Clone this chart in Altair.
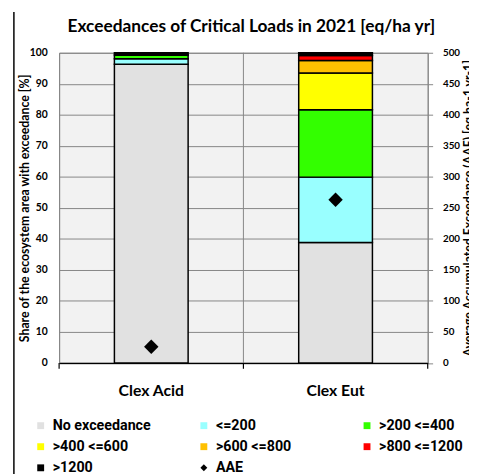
import altair as alt
import pandas as pd

categories = ["Clex Acid", "Clex Eut"]
classes = ["No exceedance", "<=200", ">200 <=400", ">400 <=600",
           ">600 <=800", ">800 <=1200", ">1200"]
acid_share = [96.3, 1.8, 1.2, 0.0, 0.0, 0.0, 0.7]
eut_share = [38.8, 21.1, 21.7, 11.9, 4.0, 1.6, 0.9]
aae_values = [26, 263]
class_colors = ["#e1e1e1", "#99ffff", "#33ff00", "#ffff00",
                "#ffc000", "#ff0000", "#000000"]
left_ticks = list(range(0, 101, 10))
right_ticks = list(range(0, 501, 50))

rows = []
for cat, shares in zip(categories, [acid_share, eut_share]):
    for i, (cl, v) in enumerate(zip(classes, shares)):
        rows.append({"cat": cat, "cls": cl, "order": i, "share": v})
bars_df = pd.DataFrame(rows)
aae_df = pd.DataFrame({"cat": categories, "cls": ["AAE"] * len(categories),
                       "aae": aae_values})

legend_domain = classes + ["AAE"]
color_scale = alt.Scale(domain=legend_domain, range=class_colors + ["#000000"])
shape_scale = alt.Scale(domain=legend_domain, range=["square"] * 7 + ["diamond"])

FONT = "Lato"
LFONT = "Roboto"
GRID = "#868686"
W, H = 375, 315.5

legend = alt.Legend(title=None, symbolStrokeColor="black", symbolStrokeWidth=1,
                    direction="horizontal", columns=3, gridAlign="all")

x_scale = alt.Scale(domain=categories, paddingInner=0, paddingOuter=0)
x_axis = alt.Axis(title=None, grid=False, ticks=False,
                  domainColor="black", domainWidth=1.5,
                  labelFont=FONT, labelFontSize=16, labelFontWeight="bold",
                  labelColor="black", labelPadding=20, labelAngle=0)
x_enc = alt.X("cat:N", sort=categories, scale=x_scale, axis=x_axis)

one = pd.DataFrame({"a": [0]})
# category separator gridline and the x-axis tick marks at the category boundaries
sep_grid = alt.Chart(one).mark_rule(color=GRID, strokeWidth=1).encode(
    x=alt.value(W / 2), y=alt.value(0), y2=alt.value(H))
tick_marks = [
    alt.Chart(one).mark_rule(color="black", strokeWidth=1.2).encode(
        x=alt.value(W * k / 2), y=alt.value(H), y2=alt.value(H + 6))
    for k in range(3)
]

bars = alt.Chart(bars_df).mark_bar(
    stroke="black", strokeWidth=1.5, width=alt.RelativeBandSize(0.4)).encode(
    x=x_enc,
    y=alt.Y("share:Q", stack="zero",
            scale=alt.Scale(domain=[0, 100], nice=False),
            axis=alt.Axis(values=left_ticks, title="Share of the ecosystem area with exceedance [%]",
                          grid=True, gridColor=GRID, gridWidth=1,
                          domainColor=GRID, ticks=False, labelPadding=12,
                          labelFont=FONT, labelFontSize=10.5, labelFontWeight="bold",
                          labelColor="black", titleFont=FONT, titleFontSize=12.5,
                          titleFontWeight="bold", titleColor="black",
                          titleAngle=270, titleBaseline="top", titleX=-41,
                          titleY=H / 2)),
    color=alt.Color("cls:N", scale=color_scale, legend=legend),
    order=alt.Order("order:Q"),
)

points = alt.Chart(aae_df).mark_point(shape="diamond", filled=True, size=215,
                                      opacity=1).encode(
    x=x_enc,
    y=alt.Y("aae:Q", scale=alt.Scale(domain=[0, 500], nice=False),
            axis=alt.Axis(orient="right", values=right_ticks, grid=False,
                          title="Average Accumulated Exceedance (AAE) [eq ha-1 yr-1]",
                          domainColor=GRID, tickColor=GRID, tickSize=5,
                          labelPadding=10, labelFont=FONT, labelFontSize=10,
                          labelFontWeight="bold", labelColor="black",
                          titleFont=FONT, titleFontSize=12.5, titleFontWeight="bold",
                          titleColor="black", titleAngle=270, titleBaseline="top",
                          titleX=36, titleY=H / 2)),
    color=alt.Color("cls:N", scale=color_scale, legend=legend),
    shape=alt.Shape("cls:N", scale=shape_scale, legend=legend),
)

border = alt.Chart(one).mark_rule(color="black", strokeWidth=1.5).encode(
    x=alt.value(-46), y=alt.value(-41.5), y2=alt.value(430))

chart = alt.layer(sep_grid, bars, points, *tick_marks, border).resolve_scale(
    y="independent"
).properties(
    width=W, height=H,
    padding={"left": 52, "top": 41.5, "right": 42, "bottom": 109},
    autosize=alt.AutoSizeParams(type="none"),
    title=alt.TitleParams("Exceedances of Critical Loads in 2021 [eq/ha yr]",
                          font=FONT, fontSize=17.6, fontWeight="bold",
                          color="black", anchor="middle", frame="group",
                          offset=0, dy=25, dx=8),
).configure_view(
    fill="#f2f2f2", stroke=GRID
).configure_legend(
    orient="none", legendX=-26, legendY=372,
    columnPadding=46, rowPadding=6.5, padding=0, symbolSize=49,
    labelFont=LFONT, labelFontSize=14.5, labelFontWeight="bold",
    labelColor="black", labelOffset=5, symbolOpacity=1
)

chart.save("out.html", embed_options={"renderer": "svg", "actions": False})
